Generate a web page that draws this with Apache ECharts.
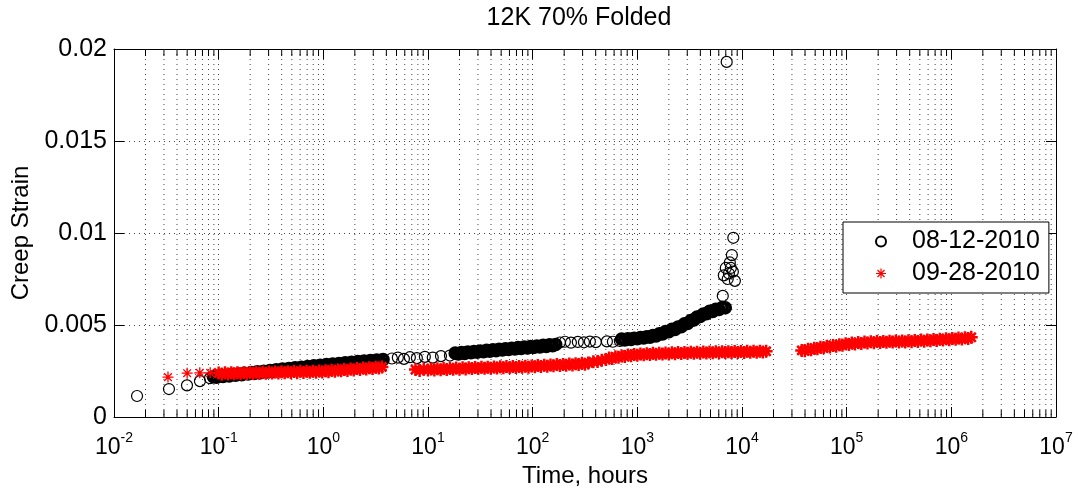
<!DOCTYPE html>
<html><head><meta charset="utf-8">
<script src="https://cdn.jsdelivr.net/npm/echarts@6/dist/echarts.min.js"></script>
<style>html,body{margin:0;padding:0;background:#fff}#c{width:1078px;height:493px}</style>
</head><body><div id="c"></div>
<script>
// ---- text ----
const chartTitle = '12K 70% Folded';
const xName = 'Time, hours';
const yName = 'Creep Strain';
const seriesNames = ['08-12-2010', '09-28-2010'];
const xTickExponents = ['-2', '-1', '0', '1', '2', '3', '4', '5', '6', '7'];
const yTickLabels = ['0', '0.005', '0.01', '0.015', '0.02'];
const minorDecades = [-2, -1, 0, 1, 2, 3, 4, 5, 6];
const minorMantissas = [2, 3, 4, 5, 6, 7, 8, 9];

// ---- 08-12-2010 (circles): [time h, strain] ----
const circEarly = [[0.0166,0.00114],[0.0335,0.00152],[0.0498,0.00172],[0.0662,0.00195],[0.0826,0.00211]];
const circBand1 = [[0.0891,0.00219],[0.0955,0.00216],[0.102,0.00224],[0.110,0.00220],[0.117,0.00227],[0.126,0.00223],[0.135,0.00231],[0.145,0.00227],[0.155,0.00234],[0.166,0.00230],[0.178,0.00238],[0.191,0.00234],[0.204,0.00242],[0.219,0.00237],[0.234,0.00245],[0.251,0.00241],[0.269,0.00249],[0.288,0.00245],[0.309,0.00252],[0.331,0.00248],[0.355,0.00256],[0.380,0.00252],[0.407,0.00260],[0.437,0.00255],[0.468,0.00263],[0.501,0.00259],[0.537,0.00267],[0.575,0.00263],[0.617,0.00270],[0.661,0.00266],[0.708,0.00274],[0.759,0.00270],[0.813,0.00278],[0.871,0.00273],[0.933,0.00281],[1.00,0.00277],[1.07,0.00285],[1.15,0.00280],[1.23,0.00288],[1.32,0.00283],[1.41,0.00291],[1.51,0.00287],[1.62,0.00294],[1.74,0.00290],[1.86,0.00297],[2.00,0.00293],[2.14,0.00301],[2.29,0.00296],[2.45,0.00304],[2.63,0.00299],[2.82,0.00307],[3.02,0.00302],[3.24,0.00310],[3.47,0.00305],[3.72,0.00312]];
const circSparse1 = [[4.52,0.00318],[5.15,0.00323],[5.89,0.00316],[6.71,0.00325],[7.83,0.00320],[9.33,0.00327],[11.1,0.00323],[13.3,0.00331],[16.2,0.00334]];
const circBand2 = [[18.2,0.00347],[19.5,0.00343],[20.9,0.00350],[22.4,0.00346],[24.0,0.00353],[25.7,0.00349],[27.5,0.00356],[29.5,0.00352],[31.6,0.00359],[33.9,0.00355],[36.3,0.00362],[38.9,0.00358],[41.7,0.00365],[44.7,0.00361],[47.9,0.00368],[51.3,0.00364],[55.0,0.00371],[58.9,0.00367],[63.1,0.00374],[67.6,0.00370],[72.4,0.00377],[77.6,0.00372],[83.2,0.00380],[89.1,0.00375],[95.5,0.00383],[102,0.00378],[110,0.00386],[117,0.00381],[126,0.00389],[135,0.00384],[145,0.00392],[155,0.00387],[166,0.00394]];
const circSparse2 = [[182,0.00405],[203,0.00409],[232,0.00404],[270,0.00408],[309,0.00406],[352,0.00410],[401,0.00407],[512,0.00411],[584,0.00409],[681,0.00413]];
const circBand3 = [[708,0.00423],[759,0.00419],[813,0.00425],[871,0.00422],[933,0.00428],[1000,0.00425],[1070,0.00432],[1150,0.00429],[1230,0.00436],[1320,0.00434],[1410,0.00443],[1510,0.00441],[1620,0.00452],[1740,0.00452],[1860,0.00464],[2000,0.00464],[2140,0.00476],[2290,0.00476],[2450,0.00489],[2630,0.00491],[2820,0.00506],[3020,0.00509],[3240,0.00524],[3470,0.00528],[3720,0.00543],[3980,0.00546],[4270,0.00560],[4570,0.00561],[4900,0.00574],[5250,0.00574],[5620,0.00585],[6030,0.00584],[6460,0.00595],[6920,0.00594]];
const circTail = [[6550,0.00658],[6700,0.0077],[7000,0.0081],[7300,0.0075],[7500,0.0078],[7650,0.0084],[7820,0.0081],[8000,0.0088],[8180,0.0079],[8550,0.0074],[8260,0.00974],[7140,0.0193]];

// ---- 09-28-2010 (stars): [time h, strain] ----
const starEarly = [[0.0328,0.00217],[0.0500,0.00238],[0.0660,0.00240],[0.0830,0.00240]];
const starBand1 = [[0.100,0.00239],[0.107,0.00233],[0.115,0.00240],[0.123,0.00234],[0.132,0.00240],[0.141,0.00235],[0.151,0.00241],[0.162,0.00235],[0.174,0.00242],[0.186,0.00236],[0.200,0.00242],[0.214,0.00237],[0.229,0.00243],[0.245,0.00237],[0.263,0.00244],[0.282,0.00238],[0.302,0.00244],[0.324,0.00239],[0.347,0.00245],[0.372,0.00239],[0.398,0.00246],[0.427,0.00240],[0.457,0.00246],[0.490,0.00241],[0.525,0.00247],[0.562,0.00241],[0.603,0.00248],[0.646,0.00242],[0.692,0.00248],[0.741,0.00243],[0.794,0.00249],[0.851,0.00243],[0.912,0.00250],[0.977,0.00244],[1.05,0.00251],[1.12,0.00246],[1.20,0.00254],[1.29,0.00248],[1.38,0.00256],[1.48,0.00251],[1.58,0.00258],[1.70,0.00253],[1.82,0.00261],[1.95,0.00256],[2.09,0.00263],[2.24,0.00258],[2.40,0.00266],[2.57,0.00261],[2.75,0.00268],[2.95,0.00263],[3.16,0.00271],[3.39,0.00266],[3.63,0.00272]];
const starBand2 = [[7.59,0.00258],[8.32,0.00253],[9.12,0.00260],[10.0,0.00255],[10.7,0.00261],[11.5,0.00256],[12.3,0.00262],[13.2,0.00257],[14.1,0.00263],[15.1,0.00258],[16.2,0.00264],[17.4,0.00259],[18.6,0.00266],[20.0,0.00260],[21.4,0.00267],[22.9,0.00261],[24.5,0.00268],[26.3,0.00263],[28.2,0.00269],[30.2,0.00264],[32.4,0.00270],[34.7,0.00265],[37.2,0.00271],[39.8,0.00265],[42.7,0.00272],[45.7,0.00266],[49.0,0.00273],[52.5,0.00267],[56.2,0.00274],[60.3,0.00268],[64.6,0.00274],[69.2,0.00269],[74.1,0.00275],[79.4,0.00270],[85.1,0.00276],[91.2,0.00271],[97.7,0.00277],[105,0.00273],[112,0.00280],[120,0.00275],[129,0.00281],[138,0.00276],[148,0.00283],[158,0.00278],[170,0.00285],[182,0.00280],[195,0.00286],[209,0.00281],[224,0.00288],[240,0.00283],[257,0.00290],[275,0.00285],[295,0.00292],[316,0.00287],[339,0.00294]];
const starBand3 = [[380,0.00300],[417,0.00302],[457,0.00309],[501,0.00312],[537,0.00320],[575,0.00318],[617,0.00327],[661,0.00325],[708,0.00332],[759,0.00329],[813,0.00337],[871,0.00333],[933,0.00340],[1000,0.00336],[1070,0.00343],[1150,0.00338],[1230,0.00344],[1320,0.00339],[1410,0.00346],[1510,0.00341],[1620,0.00347],[1740,0.00342],[1860,0.00348],[2000,0.00343],[2140,0.00349],[2290,0.00344],[2450,0.00350],[2630,0.00345],[2820,0.00351],[3020,0.00346],[3240,0.00352],[3470,0.00347],[3720,0.00352],[3980,0.00347],[4270,0.00353],[4570,0.00348],[4900,0.00353],[5250,0.00349],[5620,0.00354],[6030,0.00349],[6460,0.00355],[6920,0.00350],[7410,0.00355],[7940,0.00350],[8510,0.00356],[9120,0.00351],[9770,0.00356],[10500,0.00351],[11200,0.00357],[12000,0.00352],[12900,0.00357],[13800,0.00352],[14800,0.00358],[15800,0.00353],[17000,0.00357]];
const starBand4 = [[37200,0.00362],[39800,0.00360],[42700,0.00368],[45700,0.00365],[49000,0.00374],[52500,0.00371],[56200,0.00379],[60300,0.00376],[64600,0.00384],[69200,0.00381],[74100,0.00389],[79400,0.00385],[85100,0.00393],[91200,0.00390],[97700,0.00398],[105000,0.00394],[112000,0.00402],[120000,0.00397],[129000,0.00405],[138000,0.00400],[148000,0.00407],[158000,0.00402],[170000,0.00409],[182000,0.00404],[195000,0.00410],[209000,0.00405],[224000,0.00411],[240000,0.00406],[257000,0.00412],[275000,0.00407],[295000,0.00413],[316000,0.00407],[339000,0.00413],[363000,0.00408],[389000,0.00415],[417000,0.00409],[447000,0.00416],[479000,0.00411],[513000,0.00418],[550000,0.00412],[589000,0.00419],[631000,0.00414],[676000,0.00421],[724000,0.00416],[776000,0.00423],[832000,0.00418],[891000,0.00425],[955000,0.00420],[1020000,0.00427],[1100000,0.00422],[1170000,0.00429],[1260000,0.00424],[1350000,0.00431],[1450000,0.00426],[1550000,0.00433]];

// sparse (isolated markers) and dense (overlapping bands) parts of each test
const circSparse = [].concat(circEarly, circSparse1, circSparse2, circTail);
const circDense = [].concat(circBand1, circBand2, circBand3);
const starSparse = starEarly;
const starDense = [].concat(starBand1, starBand2, starBand3, starBand4);

const minorTicks = [];
minorDecades.forEach(d => minorMantissas.forEach(m => minorTicks.push([m * Math.pow(10, d), 0])));

const FONT = 'Liberation Sans, Arial, sans-serif';
const asteriskThin = 'path://M-10,-1.2L10,-1.2L10,1.2L-10,1.2Z M-1.2,-10L1.2,-10L1.2,10L-1.2,10Z M-6.15,-7.85L7.85,6.15L6.15,7.85L-7.85,-6.15Z M-7.85,6.15L6.15,-7.85L7.85,-6.15L-6.15,7.85Z';
const asteriskBold = 'path://M-10,-1.9L10,-1.9L10,1.9L-10,1.9Z M-1.9,-10L1.9,-10L1.9,10L-1.9,10Z M-5.6,-8.4L8.4,5.6L5.6,8.4L-8.4,-5.6Z M-8.4,5.6L5.6,-8.4L8.4,-5.6L-5.6,8.4Z';
const gridDot = { color: '#444', width: 1, type: [1, 4] };

const chart = echarts.init(document.getElementById('c'), null, { renderer: 'canvas' });
const xCommon = {
  type: 'log', logBase: 10, min: 0.01, max: 1e7, interval: 1, splitNumber: 9,
  axisLine: { show: true, onZero: false, lineStyle: { color: '#000', width: 1 } },
  axisTick: { show: true, inside: true, length: 10, lineStyle: { color: '#000' } },
  minorTick: { show: false }
};
const yCommon = {
  type: 'value', min: 0, max: 0.02, interval: 0.005,
  axisLine: { show: true, onZero: false, lineStyle: { color: '#000', width: 1 } },
  axisTick: { show: true, inside: true, length: 10, lineStyle: { color: '#000' } }
};

chart.setOption({
  animation: false,
  backgroundColor: '#fff',
  title: {
    text: chartTitle, left: 579, top: 6, textAlign: 'center', padding: 0,
    textStyle: { fontFamily: FONT, fontSize: 25, fontWeight: 'normal', color: '#000' }
  },
  grid: { left: 114, right: 22, top: 49, bottom: 76, containLabel: false },
  legend: {
    data: seriesNames, orient: 'vertical', left: 843, top: 222,
    padding: [7, 9, 7, 32], itemWidth: 10, itemHeight: 10, itemGap: 7,
    borderColor: '#000', borderWidth: 1, backgroundColor: '#fff',
    textStyle: { fontFamily: FONT, fontSize: 25, color: '#000', padding: [0, 0, 0, 21] }, z: 20
  },
  xAxis: [
    Object.assign({}, xCommon, {
      position: 'bottom',
      name: xName, nameLocation: 'middle', nameGap: 46,
      nameTextStyle: { fontFamily: FONT, fontSize: 24, color: '#000' },
      splitLine: { show: true, lineStyle: gridDot },
      axisLabel: {
        margin: 14,
        formatter: (v, i) => '{b|10}{s|' + xTickExponents[Math.round(Math.log10(v)) + 2] + '}',
        rich: {
          b: { fontFamily: FONT, fontSize: 23, color: '#000', verticalAlign: 'bottom' },
          s: { fontFamily: FONT, fontSize: 14, color: '#000', verticalAlign: 'bottom', padding: [0, 0, 14, 0] }
        }
      }
    }),
    Object.assign({}, xCommon, { position: 'top', axisLabel: { show: false }, splitLine: { show: false } })
  ],
  yAxis: [
    Object.assign({}, yCommon, {
      position: 'left',
      name: yName, nameLocation: 'middle', nameGap: 80, nameRotate: 90,
      nameTextStyle: { fontFamily: FONT, fontSize: 24, color: '#000' },
      splitLine: { show: true, lineStyle: gridDot },
      axisLabel: { margin: 7, fontFamily: FONT, fontSize: 25, color: '#000', formatter: (v, i) => yTickLabels[i] }
    }),
    Object.assign({}, yCommon, { position: 'right', axisLabel: { show: false }, splitLine: { show: false } })
  ],
  series: [
    {
      type: 'custom', xAxisIndex: 0, yAxisIndex: 0, silent: true, z: 1,
      data: minorTicks, encode: { x: 0, y: 1 },
      renderItem: (params, api) => {
        const x = api.coord([api.value(0), 0])[0];
        const cs = params.coordSys;
        return { type: 'group', children: [
          { type: 'line', shape: { x1: x, y1: cs.y, x2: x, y2: cs.y + cs.height }, style: { stroke: '#444', lineWidth: 1, lineDash: [1, 4] } },
          { type: 'line', shape: { x1: x, y1: cs.y + cs.height, x2: x, y2: cs.y + cs.height - 7 }, style: { stroke: '#000', lineWidth: 1 } },
          { type: 'line', shape: { x1: x, y1: cs.y, x2: x, y2: cs.y + 7 }, style: { stroke: '#000', lineWidth: 1 } }
        ] };
      }
    },
    {
      name: seriesNames[0], type: 'scatter', xAxisIndex: 0, yAxisIndex: 0, z: 3,
      symbol: 'circle', symbolSize: 11, data: circSparse,
      itemStyle: { color: 'rgba(0,0,0,0)', borderColor: '#000', borderWidth: 1.2, opacity: 1 },
      emphasis: { disabled: true }
    },
    {
      name: seriesNames[0], type: 'scatter', xAxisIndex: 0, yAxisIndex: 0, z: 3,
      symbol: 'circle', symbolSize: 10, data: circDense,
      itemStyle: { color: 'rgba(0,0,0,0)', borderColor: '#000', borderWidth: 3.6, opacity: 1 },
      emphasis: { disabled: true }
    },
    {
      name: seriesNames[1], type: 'scatter', xAxisIndex: 0, yAxisIndex: 0, z: 4,
      symbol: asteriskThin, symbolSize: 11, data: starSparse,
      itemStyle: { color: '#ff0000', opacity: 1 },
      emphasis: { disabled: true }
    },
    {
      name: seriesNames[1], type: 'scatter', xAxisIndex: 0, yAxisIndex: 0, z: 4,
      symbol: asteriskBold, symbolSize: 13, data: starDense,
      itemStyle: { color: '#ff0000', opacity: 1 },
      emphasis: { disabled: true }
    }
  ]
});
</script></body></html>
